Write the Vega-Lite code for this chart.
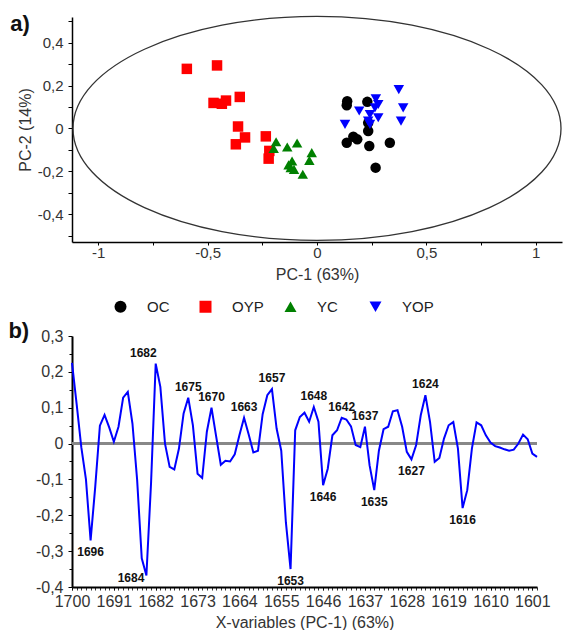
{
  "$schema": "https://vega.github.io/schema/vega-lite/v6.json",
  "padding": {"left": 8, "top": 12, "right": 0, "bottom": 0},
  "spacing": 38,
  "config": {
    "locale": {"number": {"decimal": ",", "thousands": ".", "grouping": [3], "currency": ["", ""], "minus": "-"}},
    "font": "Liberation Sans",
    "view": {"stroke": null},
    "axis": {"grid": false, "domainColor": "#000", "domainWidth": 1.5, "tickColor": "#000", "tickSize": 4, "labelColor": "#333", "titleColor": "#333", "labelFont": "Liberation Sans", "titleFont": "Liberation Sans", "titleFontWeight": "normal", "labelFlush": false, "labelOverlap": false, "labelFontSize": 15, "titleFontSize": 16}
  },
  "vconcat": [
    {
      "width": 490,
      "height": 225,
      "title": {"text": "a)", "anchor": "start", "frame": "bounds", "fontSize": 22, "fontWeight": "bold", "color": "#111", "offset": -22, "dx": -7},
      "resolve": {"axis": {"x": "independent", "y": "independent"}},
      "layer": [
        {
          "data": {"values": [{"pc1": 0, "pc2": 0}]},
          "mark": {"type": "point", "shape": "M-1,0A1,0.459,0,1,1,1,0A1,0.459,0,1,1,-1,0Z", "size": 238144, "filled": false, "stroke": "#333", "strokeWidth": 1.3, "opacity": 1},
          "encoding": {
            "x": {"field": "pc1", "type": "quantitative", "title": "PC-1 (63%)", "scale": {"domain": [-1.12, 1.12], "nice": false, "zero": false},
                  "axis": {"orient": "bottom", "values": [-1, -0.5, 0, 0.5, 1], "format": "~g", "tickSize": 3, "labelPadding": 0, "titlePadding": 6}},
            "y": {"field": "pc2", "type": "quantitative", "title": "PC-2 (14%)", "scale": {"domain": [-0.53, 0.52], "nice": false, "zero": false},
                  "axis": {"orient": "left", "values": [-0.4, -0.2, 0, 0.2, 0.4], "format": "~g", "labelPadding": 5, "titlePadding": 4}}
          }
        },
        {
          "mark": {"type": "rule", "color": "#888", "strokeWidth": 1.2},
          "encoding": {"y": {"datum": 0, "axis": {"orient": "left", "values": [-0.5, -0.3, -0.1, 0.1, 0.3, 0.5], "labels": false, "domain": false, "title": null, "tickSize": 4}}}
        },
        {
          "mark": {"type": "rule", "color": "#888", "strokeWidth": 1.2},
          "encoding": {"x": {"datum": 0, "axis": {"orient": "bottom", "values": [-0.75, -0.25, 0.25, 0.75], "labels": false, "domain": false, "title": null, "tickSize": 3}}}
        },
        {
          "data": {"values": [
            {"group": "OC", "pc1": 0.138, "pc2": 0.127},
            {"group": "OC", "pc1": 0.136, "pc2": 0.108},
            {"group": "OC", "pc1": 0.230, "pc2": 0.124},
            {"group": "OC", "pc1": 0.234, "pc2": 0.026},
            {"group": "OC", "pc1": 0.234, "pc2": -0.012},
            {"group": "OC", "pc1": 0.166, "pc2": -0.039},
            {"group": "OC", "pc1": 0.184, "pc2": -0.051},
            {"group": "OC", "pc1": 0.136, "pc2": -0.067},
            {"group": "OC", "pc1": 0.239, "pc2": -0.082},
            {"group": "OC", "pc1": 0.333, "pc2": -0.067},
            {"group": "OC", "pc1": 0.268, "pc2": -0.183},
            {"group": "OYP", "pc1": -0.595, "pc2": 0.278},
            {"group": "OYP", "pc1": -0.457, "pc2": 0.294},
            {"group": "OYP", "pc1": -0.473, "pc2": 0.119},
            {"group": "OYP", "pc1": -0.435, "pc2": 0.115},
            {"group": "OYP", "pc1": -0.416, "pc2": 0.130},
            {"group": "OYP", "pc1": -0.353, "pc2": 0.147},
            {"group": "OYP", "pc1": -0.361, "pc2": 0.009},
            {"group": "OYP", "pc1": -0.329, "pc2": -0.042},
            {"group": "OYP", "pc1": -0.371, "pc2": -0.074},
            {"group": "OYP", "pc1": -0.234, "pc2": -0.037},
            {"group": "OYP", "pc1": -0.218, "pc2": -0.105},
            {"group": "OYP", "pc1": -0.221, "pc2": -0.141},
            {"group": "YC", "pc1": -0.187, "pc2": -0.062},
            {"group": "YC", "pc1": -0.198, "pc2": -0.094},
            {"group": "YC", "pc1": -0.136, "pc2": -0.087},
            {"group": "YC", "pc1": -0.091, "pc2": -0.068},
            {"group": "YC", "pc1": -0.024, "pc2": -0.113},
            {"group": "YC", "pc1": -0.035, "pc2": -0.149},
            {"group": "YC", "pc1": -0.114, "pc2": -0.152},
            {"group": "YC", "pc1": -0.120, "pc2": -0.183},
            {"group": "YC", "pc1": -0.105, "pc2": -0.191},
            {"group": "YC", "pc1": -0.065, "pc2": -0.214},
            {"group": "YC", "pc1": -0.130, "pc2": -0.170},
            {"group": "YOP", "pc1": 0.374, "pc2": 0.181},
            {"group": "YOP", "pc1": 0.394, "pc2": 0.096},
            {"group": "YOP", "pc1": 0.384, "pc2": 0.034},
            {"group": "YOP", "pc1": 0.269, "pc2": 0.138},
            {"group": "YOP", "pc1": 0.280, "pc2": 0.112},
            {"group": "YOP", "pc1": 0.193, "pc2": 0.081},
            {"group": "YOP", "pc1": 0.242, "pc2": 0.065},
            {"group": "YOP", "pc1": 0.280, "pc2": 0.050},
            {"group": "YOP", "pc1": 0.234, "pc2": 0.034},
            {"group": "YOP", "pc1": 0.242, "pc2": 0.019},
            {"group": "YOP", "pc1": 0.128, "pc2": 0.019},
            {"group": "YOP", "pc1": 0.265, "pc2": 0.096}
          ]},
          "mark": {"type": "point", "filled": true, "opacity": 1, "size": 110, "strokeWidth": 0},
          "encoding": {
            "x": {"field": "pc1", "type": "quantitative", "axis": null},
            "y": {"field": "pc2", "type": "quantitative", "axis": null},
            "color": {"field": "group", "type": "nominal",
                      "scale": {"domain": ["OC", "OYP", "YC", "YOP"], "range": ["#000000", "#ff0000", "#008000", "#0000ff"]},
                      "legend": {"orient": "none", "legendX": 41, "legendY": 282, "direction": "horizontal", "title": null, "labelFontSize": 15, "labelColor": "#222", "symbolSize": 144, "labelOffset": 19, "columnPadding": 19, "gridAlign": "all", "symbolStrokeWidth": 0}},
            "shape": {"field": "group", "type": "nominal",
                      "scale": {"domain": ["OC", "OYP", "YC", "YOP"], "range": ["circle", "square", "triangle-up", "triangle-down"]},
                      "legend": {"orient": "none", "legendX": 41, "legendY": 282, "direction": "horizontal", "title": null, "labelFontSize": 15, "labelColor": "#222", "symbolSize": 144, "labelOffset": 19, "columnPadding": 19, "gridAlign": "all", "symbolStrokeWidth": 0}}
          }
        }
      ]
    },
    {
      "width": 465,
      "height": 251,
      "title": {"text": "b)", "anchor": "start", "frame": "bounds", "fontSize": 22, "fontWeight": "bold", "color": "#111", "offset": -15, "dx": -27},
      "resolve": {"axis": {"x": "independent", "y": "independent"}},
      "data": {"values": [
        {"w": 1700, "v": 0.225}, {"w": 1699, "v": 0.11}, {"w": 1698, "v": -0.01}, {"w": 1697, "v": -0.10}, {"w": 1696, "v": -0.27},
        {"w": 1695, "v": -0.12}, {"w": 1694, "v": 0.05}, {"w": 1693, "v": 0.08}, {"w": 1692, "v": 0.045}, {"w": 1691, "v": 0.005},
        {"w": 1690, "v": 0.047}, {"w": 1689, "v": 0.128}, {"w": 1688, "v": 0.144}, {"w": 1687, "v": 0.056}, {"w": 1686, "v": -0.10},
        {"w": 1685, "v": -0.32}, {"w": 1684, "v": -0.368}, {"w": 1683, "v": -0.11}, {"w": 1682, "v": 0.223}, {"w": 1681, "v": 0.158},
        {"w": 1680, "v": 0.0}, {"w": 1679, "v": -0.065}, {"w": 1678, "v": -0.072}, {"w": 1677, "v": -0.014}, {"w": 1676, "v": 0.084},
        {"w": 1675, "v": 0.128}, {"w": 1674, "v": 0.051}, {"w": 1673, "v": -0.084}, {"w": 1672, "v": -0.096}, {"w": 1671, "v": 0.033},
        {"w": 1670, "v": 0.10}, {"w": 1669, "v": 0.02}, {"w": 1668, "v": -0.059}, {"w": 1667, "v": -0.048}, {"w": 1666, "v": -0.05},
        {"w": 1665, "v": -0.03}, {"w": 1664, "v": 0.023}, {"w": 1663, "v": 0.072}, {"w": 1662, "v": 0.025}, {"w": 1661, "v": -0.025},
        {"w": 1660, "v": -0.02}, {"w": 1659, "v": 0.082}, {"w": 1658, "v": 0.135}, {"w": 1657, "v": 0.152}, {"w": 1656, "v": 0.042},
        {"w": 1655, "v": -0.02}, {"w": 1654, "v": -0.22}, {"w": 1653, "v": -0.35}, {"w": 1652, "v": 0.037}, {"w": 1651, "v": 0.074},
        {"w": 1650, "v": 0.086}, {"w": 1649, "v": 0.061}, {"w": 1648, "v": 0.102}, {"w": 1647, "v": 0.061}, {"w": 1646, "v": -0.116},
        {"w": 1645, "v": -0.07}, {"w": 1644, "v": 0.023}, {"w": 1643, "v": 0.037}, {"w": 1642, "v": 0.072}, {"w": 1641, "v": 0.067},
        {"w": 1640, "v": 0.048}, {"w": 1639, "v": -0.004}, {"w": 1638, "v": -0.01}, {"w": 1637, "v": 0.047}, {"w": 1636, "v": -0.061},
        {"w": 1635, "v": -0.13}, {"w": 1634, "v": -0.02}, {"w": 1633, "v": 0.04}, {"w": 1632, "v": 0.047}, {"w": 1631, "v": 0.09},
        {"w": 1630, "v": 0.093}, {"w": 1629, "v": 0.047}, {"w": 1628, "v": -0.023}, {"w": 1627, "v": -0.044}, {"w": 1626, "v": -0.005},
        {"w": 1625, "v": 0.079}, {"w": 1624, "v": 0.135}, {"w": 1623, "v": 0.06}, {"w": 1622, "v": -0.051}, {"w": 1621, "v": -0.04},
        {"w": 1620, "v": 0.014}, {"w": 1619, "v": 0.051}, {"w": 1618, "v": 0.06}, {"w": 1617, "v": -0.014}, {"w": 1616, "v": -0.18},
        {"w": 1615, "v": -0.13}, {"w": 1614, "v": -0.014}, {"w": 1613, "v": 0.059}, {"w": 1612, "v": 0.051}, {"w": 1611, "v": 0.023},
        {"w": 1610, "v": 0.003}, {"w": 1609, "v": -0.007}, {"w": 1608, "v": -0.011}, {"w": 1607, "v": -0.016}, {"w": 1606, "v": -0.02},
        {"w": 1605, "v": -0.017}, {"w": 1604, "v": 0.0}, {"w": 1603, "v": 0.025}, {"w": 1602, "v": 0.012}, {"w": 1601, "v": -0.028},
        {"w": 1600, "v": -0.037}
      ]},
      "layer": [
        {
          "mark": {"type": "rule", "color": "#888", "strokeWidth": 1.5},
          "encoding": {"y": {"datum": 0, "axis": {"orient": "left", "values": [-0.35, -0.25, -0.15, -0.05, 0.05, 0.15, 0.25], "labels": false, "domain": false, "title": null, "tickSize": 3}}}
        },
        {
          "mark": {"type": "line", "color": "#0000ff", "strokeWidth": 2},
          "encoding": {
            "x": {"field": "w", "type": "quantitative", "title": "X-variables (PC-1) (63%)", "scale": {"domain": [1600, 1700], "reverse": true, "nice": false, "zero": false},
                  "axis": {"orient": "bottom", "values": [1700, 1691, 1682, 1673, 1664, 1655, 1646, 1637, 1628, 1619, 1610, 1601], "format": "d", "tickSize": 3, "tickWidth": 0.8, "labelFontSize": 16, "labelPadding": 3, "titlePadding": 5, "domainWidth": 2}},
            "y": {"field": "v", "type": "quantitative", "title": null, "scale": {"domain": [-0.4, 0.3], "nice": false, "zero": false},
                  "axis": {"orient": "left", "values": [-0.4, -0.3, -0.2, -0.1, 0, 0.1, 0.2, 0.3], "format": "~g", "labelFontSize": 16, "labelPadding": 5, "domainWidth": 2}}
          }
        },
        {
          "transform": [{"filter": {"field": "w", "oneOf": [1675, 1670, 1663, 1657, 1648, 1642, 1637, 1624]}}],
          "mark": {"type": "text", "fontSize": 12, "fontWeight": "bold", "color": "#111", "dy": -11, "baseline": "middle"},
          "encoding": {
            "x": {"field": "w", "type": "quantitative", "axis": {"orient": "bottom", "values": [1600,1601,1602,1603,1604,1605,1606,1607,1608,1609,1610,1611,1612,1613,1614,1615,1616,1617,1618,1619,1620,1621,1622,1623,1624,1625,1626,1627,1628,1629,1630,1631,1632,1633,1634,1635,1636,1637,1638,1639,1640,1641,1642,1643,1644,1645,1646,1647,1648,1649,1650,1651,1652,1653,1654,1655,1656,1657,1658,1659,1660,1661,1662,1663,1664,1665,1666,1667,1668,1669,1670,1671,1672,1673,1674,1675,1676,1677,1678,1679,1680,1681,1682,1683,1684,1685,1686,1687,1688,1689,1690,1691,1692,1693,1694,1695,1696,1697,1698,1699,1700], "labels": false, "domain": false, "title": null, "tickSize": 3, "tickWidth": 0.8}},
            "y": {"field": "v", "type": "quantitative", "axis": null},
            "text": {"field": "w", "type": "quantitative", "format": "d"}
          }
        },
        {
          "transform": [{"filter": {"field": "w", "oneOf": [1682]}}],
          "mark": {"type": "text", "fontSize": 12, "fontWeight": "bold", "color": "#111", "dy": -11, "dx": 1, "align": "right", "baseline": "middle"},
          "encoding": {"x": {"field": "w", "type": "quantitative", "axis": null}, "y": {"field": "v", "type": "quantitative", "axis": null}, "text": {"field": "w", "type": "quantitative", "format": "d"}}
        },
        {
          "transform": [{"filter": {"field": "w", "oneOf": [1696, 1653, 1646, 1635, 1627, 1616]}}],
          "mark": {"type": "text", "fontSize": 12, "fontWeight": "bold", "color": "#111", "dy": 12, "baseline": "middle"},
          "encoding": {"x": {"field": "w", "type": "quantitative", "axis": null}, "y": {"field": "v", "type": "quantitative", "axis": null}, "text": {"field": "w", "type": "quantitative", "format": "d"}}
        },
        {
          "transform": [{"filter": {"field": "w", "oneOf": [1684]}}],
          "mark": {"type": "text", "fontSize": 12, "fontWeight": "bold", "color": "#111", "dy": 2, "dx": -2, "align": "right", "baseline": "middle"},
          "encoding": {"x": {"field": "w", "type": "quantitative", "axis": null}, "y": {"field": "v", "type": "quantitative", "axis": null}, "text": {"field": "w", "type": "quantitative", "format": "d"}}
        }
      ]
    }
  ]
}
